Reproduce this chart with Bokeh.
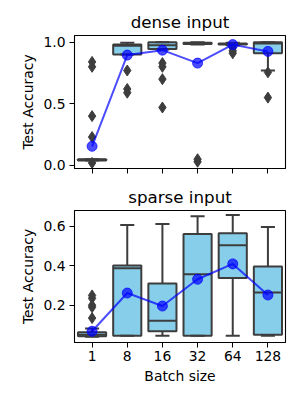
import numpy as np
from bokeh.plotting import figure
from bokeh.layouts import column
from bokeh.models import Range1d, FixedTicker
from bokeh.embed import file_html
from bokeh.resources import INLINE

batch = ["1", "8", "16", "32", "64", "128"]

# dense input summary
dense_q1 = [0.040, 0.900, 0.945, 0.985, 0.980, 0.910]
dense_med = [0.045, 0.970, 0.975, 0.990, 0.985, 0.990]
dense_q3 = [0.050, 0.980, 1.000, 0.995, 0.990, 1.000]
dense_lo = [0.040, 0.900, 0.940, 0.980, 0.975, 0.770]
dense_hi = [0.050, 0.995, 1.000, 1.000, 0.995, 1.000]
dense_mean = [0.155, 0.895, 0.935, 0.830, 0.980, 0.925]
dense_outliers = [
    [0.84, 0.80, 0.40, 0.23, 0.02],
    [0.77, 0.62, 0.59],
    [0.83, 0.80, 0.70, 0.47],
    [0.05, 0.03],
    [0.955, 0.93, 0.91],
    [0.755, 0.55],
]

# sparse input summary
sparse_q1 = [0.043, 0.045, 0.068, 0.045, 0.338, 0.050]
sparse_med = [0.050, 0.388, 0.122, 0.357, 0.504, 0.265]
sparse_q3 = [0.063, 0.402, 0.310, 0.562, 0.565, 0.397]
sparse_lo = [0.040, 0.045, 0.045, 0.045, 0.045, 0.045]
sparse_hi = [0.082, 0.607, 0.612, 0.652, 0.658, 0.597]
sparse_mean = [0.068, 0.262, 0.196, 0.332, 0.410, 0.252]
sparse_outliers = [
    [0.250, 0.235, 0.200, 0.190, 0.135],
    [], [], [], [], [],
]

dense_yticks = [0.0, 0.5, 1.0]
sparse_yticks = [0.2, 0.4, 0.6]

FONT = "DejaVu Sans"
GRAY = "#3d3d3d"
BOXFILL = "#87ceeb"


def make(title, q1, med, q3, lo, hi, mean, outliers, yr, yticks, fh,
         top, bottom, show_xlabels):
    p = figure(frame_width=211, frame_height=fh, output_backend="svg",
               toolbar_location=None, x_range=Range1d(-0.5, 5.5),
               y_range=Range1d(*yr), min_border_left=74, min_border_right=10,
               min_border_top=top, min_border_bottom=bottom)
    p.title.text = title
    p.title.align = "center"
    p.title.text_font = FONT
    p.title.text_font_size = "16.7px"
    p.title.text_font_style = "normal"
    p.title.text_color = "black"
    p.title.standoff = 8
    xs = np.arange(len(batch))
    bw = 0.8
    cw = 0.4
    p.segment(xs, q3, xs, hi, line_color=GRAY, line_width=2)
    p.segment(xs, q1, xs, lo, line_color=GRAY, line_width=2)
    p.vbar(x=xs, width=bw, bottom=q1, top=q3, fill_color=BOXFILL,
           line_color=GRAY, line_width=2)
    p.segment(xs - bw / 2, med, xs + bw / 2, med, line_color=GRAY, line_width=2)
    p.segment(xs - cw / 2, hi, xs + cw / 2, hi, line_color=GRAY, line_width=2)
    p.segment(xs - cw / 2, lo, xs + cw / 2, lo, line_color=GRAY, line_width=2)
    ox, oy = [], []
    for i, vals in enumerate(outliers):
        for v in vals:
            ox.append(xs[i])
            oy.append(v)
    p.scatter(ox, oy, marker="diamond", size=11, fill_color=GRAY,
              line_color=GRAY)
    p.line(xs, mean, line_color="blue", line_alpha=0.7, line_width=2)
    p.scatter(xs, mean, marker="circle", size=10, fill_color="blue",
              fill_alpha=0.7, line_color="blue", line_alpha=0.7)

    p.xgrid.visible = False
    p.ygrid.visible = False
    p.outline_line_color = "black"
    p.outline_line_width = 1.1
    for ax in (p.xaxis, p.yaxis):
        ax.axis_line_color = "black"
        ax.major_tick_line_color = "black"
        ax.major_tick_in = 0
        ax.major_tick_out = 5
        ax.minor_tick_line_color = None
        ax.major_label_text_font = FONT
        ax.major_label_text_font_size = "13.9px"
        ax.major_label_text_color = "black"
        ax.axis_label_text_font = FONT
        ax.axis_label_text_font_size = "13.9px"
        ax.axis_label_text_font_style = "normal"
        ax.axis_label_text_color = "black"
    p.xaxis.ticker = FixedTicker(ticks=list(xs))
    p.yaxis.ticker = FixedTicker(ticks=yticks)
    p.yaxis.major_label_overrides = {t: "%.1f" % t for t in yticks}
    p.yaxis.axis_label = "Test Accuracy"
    p.yaxis.axis_label_standoff = 4
    p.yaxis.major_label_standoff = 4
    if show_xlabels:
        p.xaxis.major_label_overrides = {int(i): b for i, b in zip(xs, batch)}
        p.xaxis.axis_label = "Batch size"
        p.xaxis.major_label_standoff = 3
        p.xaxis.axis_label_standoff = 4
    else:
        p.xaxis.major_label_overrides = {int(i): "" for i in xs}
        p.xaxis.major_label_standoff = 0
    return p


p1 = make("dense input", dense_q1, dense_med, dense_q3, dense_lo, dense_hi,
          dense_mean, dense_outliers, (-0.025, 1.054), dense_yticks,
          133, 35, 7, False)
p2 = make("sparse input", sparse_q1, sparse_med, sparse_q3, sparse_lo,
          sparse_hi, sparse_mean, sparse_outliers, (0.011, 0.681),
          sparse_yticks, 132, 35, 50, True)

layout = column(p1, p2, spacing=0)
open("out.html", "w").write(file_html(layout, INLINE))
